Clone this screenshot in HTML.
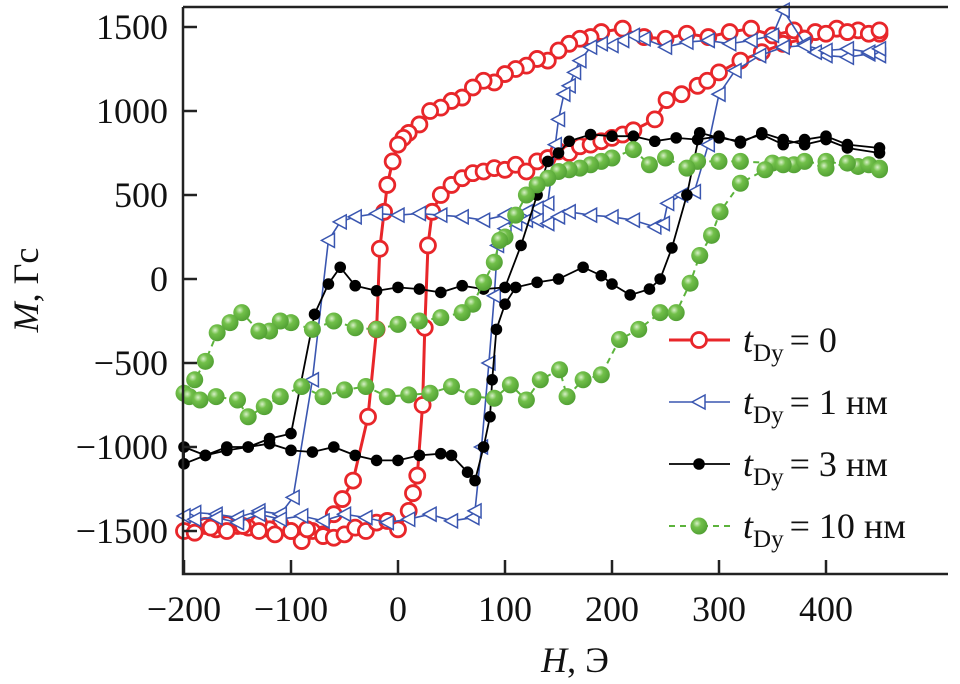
<!DOCTYPE html>
<html><head><meta charset="utf-8">
<style>
html,body{margin:0;padding:0;background:#fff;}
svg{display:block;font-family:"Liberation Serif",serif;}
</style></head>
<body>
<svg id="chart" width="960" height="684" viewBox="0 0 960 684" xmlns="http://www.w3.org/2000/svg">
<defs>
<radialGradient id="gball" cx="0.38" cy="0.35" r="0.7">
<stop offset="0" stop-color="#d8f0c8"/><stop offset="0.35" stop-color="#72c04a"/><stop offset="1" stop-color="#4f9e32"/>
</radialGradient>
</defs>
<g id="series"></g>
<g id="axes"></g>
<g id="legend"></g>
</svg>
<script>
// ---- data ----
const xTicks = [-200,-100,0,100,200,300,400];
const yTicks = [1500,1000,500,0,-500,-1000,-1500];
const xTickLabels = ["\u2212200","\u2212100","0","100","200","300","400"];
const yTickLabels = ["1500","1000","500","0","\u2212500","\u22121000","\u22121500"];
const seriesLabels = ["= 0","= 1 нм","= 3 нм","= 10 нм"];

const redH = [450,430,410,390,370,350,330,310,290,270,250,230,210,190,180,170,160,150,140,130,120,110,100,90,80,70,60,50,40,30,20,10,5,0,-5,-10,-13,-17,-20,-28,-42,-52,-60,-70,-80,-90,-100,-110,-120,-130,-140,-150,-160,-170,-180,-190,-200,
 -190,-175,-160,-145,-130,-115,-100,-85,-70,-60,-50,-40,-30,-20,-10,0,10,14,18,23,25,28,32,40,50,60,70,80,90,100,110,120,130,140,150,160,170,180,190,200,210,220,240,251,265,280,289,300,320,340,360,380,400,420,440,450];
const redM = [1460,1480,1490,1470,1480,1450,1490,1470,1440,1460,1430,1440,1490,1470,1440,1430,1400,1360,1300,1310,1270,1250,1220,1170,1180,1140,1080,1060,1020,1000,920,870,840,800,700,560,400,180,-300,-820,-1200,-1310,-1400,-1520,-1500,-1560,-1500,-1460,-1490,-1450,-1480,-1470,-1460,-1490,-1470,-1480,-1500,
 -1510,-1480,-1500,-1470,-1500,-1520,-1500,-1490,-1530,-1540,-1520,-1480,-1500,-1450,-1440,-1490,-1380,-1275,-1170,-750,-290,200,400,500,560,600,630,640,660,650,680,640,700,720,760,750,790,800,820,840,860,885,950,1065,1100,1150,1180,1230,1300,1350,1400,1430,1460,1470,1460,1480];

const blueH = [450,440,420,400,390,380,360,350,330,310,290,270,250,230,220,210,200,190,180,170,165,160,155,150,147,140,130,120,100,80,60,40,20,0,-20,-40,-54,-65,-80,-98,-110,-130,-150,-170,-190,-200,
 -190,-170,-150,-130,-110,-90,-70,-50,-30,-10,10,30,50,70,72,78,85,90,93,100,110,120,130,140,150,160,180,200,220,240,248,252,265,277,290,300,315,338,360,380,400,420,440,450];
const blueM = [1330,1340,1320,1330,1350,1400,1600,1450,1420,1400,1420,1410,1380,1430,1450,1420,1390,1400,1380,1300,1230,1150,1100,950,800,450,420,400,380,350,370,380,390,380,390,370,340,230,-600,-1300,-1400,-1380,-1420,-1400,-1390,-1410,
 -1430,-1420,-1450,-1400,-1430,-1410,-1440,-1400,-1420,-1450,-1430,-1400,-1440,-1420,-1380,-1000,-500,-100,200,300,330,350,350,330,370,400,380,370,350,310,330,450,500,520,800,1100,1240,1330,1380,1390,1360,1370,1350,1370];

const blackH = [450,420,400,380,360,340,320,300,280,260,240,220,200,180,160,150,140,130,115,100,80,60,40,20,0,-20,-40,-54,-65,-78,-100,-120,-140,-160,-180,-200,
 -200,-180,-160,-140,-120,-100,-80,-60,-40,-20,0,20,40,50,65,72,80,86,88,92,100,110,130,150,173,190,200,217,235,245,256,270,282,300,320,340,360,380,400,420,450];
const blackM = [750,780,830,800,830,870,810,850,830,840,820,850,850,860,820,750,700,500,200,-50,-60,-40,-80,-60,-50,-70,-40,70,-30,-210,-920,-950,-1000,-1000,-1050,-1000,
 -1100,-1050,-1020,-1000,-980,-1020,-1030,-1000,-1050,-1080,-1080,-1050,-1040,-1050,-1150,-1200,-1000,-820,-600,-300,-150,-50,-20,0,70,20,-30,-95,-60,0,185,500,870,840,820,860,800,830,850,800,780];

const greenH = [450,430,400,370,350,320,300,280,270,250,235,220,200,190,180,170,160,150,140,130,120,110,100,95,90,80,70,60,40,20,0,-20,-40,-60,-80,-100,-110,-120,-130,-146,-157,-169,-180,-190,-200,
 -195,-185,-170,-150,-140,-125,-110,-90,-70,-50,-30,-10,10,30,50,70,90,105,120,133,151,158,173,190,207,225,245,260,273,282,293,301,320,343,360,380,400,420,440,450];
const greenM = [660,670,700,680,690,700,700,700,660,720,680,770,720,700,680,660,650,640,600,560,500,380,250,230,100,-20,-150,-200,-230,-250,-270,-300,-290,-250,-300,-260,-250,-310,-310,-200,-260,-320,-490,-600,-680,
 -700,-720,-700,-720,-820,-760,-700,-640,-700,-660,-640,-700,-690,-680,-640,-700,-710,-630,-720,-600,-540,-700,-600,-570,-360,-300,-200,-200,-25,140,260,400,570,650,680,700,660,690,680,650];

// ---- scales ----
function xs(h){ return 398 + h*1.07; }
function ys(m){ return 279 - m*0.168; }

const NS = "http://www.w3.org/2000/svg";
function mk(tag, attrs, parent){
  const e = document.createElementNS(NS, tag);
  for (const k in attrs) e.setAttribute(k, attrs[k]);
  parent.appendChild(e);
  return e;
}
const gS = document.getElementById('series');
const gA = document.getElementById('axes');
const gL = document.getElementById('legend');

function marker(kind, cx, cy, parent, color){
  let e;
  if (kind === 'circle-open'){
    e = mk('circle',{cx:cx,cy:cy,r:7.5,fill:'#fff',stroke:color,'stroke-width':2.8},parent);
  } else if (kind === 'tri'){
    e = mk('polygon',{points:(cx-7)+','+cy+' '+(cx+6)+','+(cy-7)+' '+(cx+6)+','+(cy+7),fill:'#fff',stroke:color,'stroke-width':1.5},parent);
  } else if (kind === 'dot'){
    e = mk('circle',{cx:cx,cy:cy,r:5.8,fill:'#000'},parent);
  } else {
    e = mk('circle',{cx:cx,cy:cy,r:8.5,fill:'url(#gball)'},parent);
  }
  return e;
}

function drawSeries(H, M, color, lw, dash, kind, name){
  const g = mk('g',{},gS);
  
  
  let d = '';
  for (let i=0;i<H.length;i++) d += (i?'L':'M')+xs(H[i]).toFixed(1)+','+ys(M[i]).toFixed(1);
  const p = mk('path',{d:d,fill:'none',stroke:color,'stroke-width':lw,'stroke-dasharray':dash},g);
  
  
  for (let i=0;i<H.length;i++){
    const m = marker(kind, xs(H[i]), ys(M[i]), g, color);
    
    
  }
}
drawSeries(redH, redM, '#e8262a', 3, 'none', 'circle-open', 'series-tdy-0');
drawSeries(blueH, blueM, '#3a56b0', 1.6, 'none', 'tri', 'series-tdy-1nm');
drawSeries(blackH, blackM, '#000', 1.8, 'none', 'dot', 'series-tdy-3nm');
drawSeries(greenH, greenM, '#5cb33c', 2, '6,5', 'ball', 'series-tdy-10nm');

// ---- axes ----
const frame = mk('path',{d:'M183,7 L948,7 M183,7 L183,574 L948,574',fill:'none',stroke:'#222','stroke-width':2.5},gA);


for (let i=0;i<xTicks.length;i++){
  const x = xs(xTicks[i]);
  const t = mk('line',{x1:x,y1:574,x2:x,y2:560,stroke:'#222','stroke-width':2.5},gA);
  
  
  const l = mk('text',{x:x,y:621,'text-anchor':'middle','font-size':36,fill:'#111'},gA);
  l.textContent = xTickLabels[i];
  
  
}
for (let i=0;i<yTicks.length;i++){
  const y = ys(yTicks[i]);
  const t = mk('line',{x1:183,y1:y,x2:197,y2:y,stroke:'#222','stroke-width':2.5},gA);
  
  
  const l = mk('text',{x:168,y:y+12,'text-anchor':'end','font-size':36,fill:'#111'},gA);
  l.textContent = yTickLabels[i];
  
  
}
const xt = mk('text',{x:575,y:672,'text-anchor':'middle','font-size':36,fill:'#111'},gA);
xt.innerHTML = '<tspan font-style="italic">H</tspan>, Э';


const yt = mk('text',{x:0,y:0,'text-anchor':'middle','font-size':36,fill:'#111',transform:'translate(38,290) rotate(-90)'},gA);
yt.innerHTML = '<tspan font-style="italic">M</tspan>, Гс';



// ---- legend ----
const legColors = ['#e8262a','#3a56b0','#000','#5cb33c'];
const legKinds = ['circle-open','tri','dot','ball'];
const legLw = [3,1.6,1.8,2];
const legDash = ['none','none','none','6,5'];
for (let i=0;i<4;i++){
  const y = 340 + i*62;
  const g = mk('g',{},gL);
  
  
  mk('line',{x1:669,y1:y,x2:730,y2:y,stroke:legColors[i],'stroke-width':legLw[i],'stroke-dasharray':legDash[i]},g);
  marker(legKinds[i],699,y,g,legColors[i]);
  const tx = mk('text',{x:743,y:y+12,'font-size':36,fill:'#111'},g);
  tx.innerHTML = '<tspan font-style="italic">t</tspan><tspan font-size="25" dy="9">Dy</tspan><tspan dy="-9" dx="6">'+seriesLabels[i]+'</tspan>';
  
  
}
</script>
</body></html>
